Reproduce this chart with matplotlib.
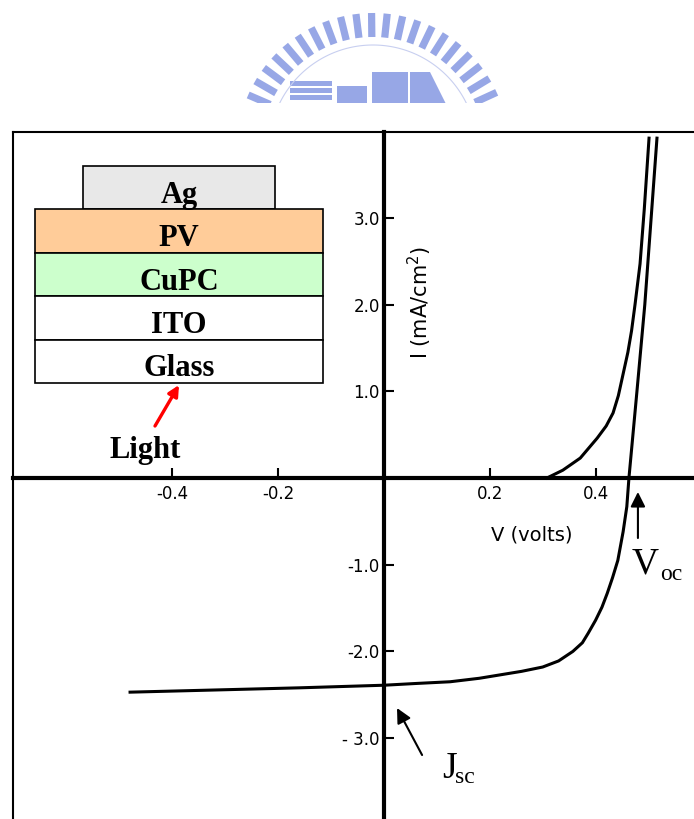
import numpy as np
import matplotlib
matplotlib.use("Agg")
import matplotlib.pyplot as plt
from matplotlib.patches import Rectangle, Polygon

# J-V data (V in volts, I in mA/cm2)
v_light = [-0.48, -0.16, 0.0, 0.06, 0.125, 0.18, 0.22, 0.26, 0.30, 0.33, 0.357, 0.375,
           0.386, 0.40, 0.412, 0.422, 0.432, 0.442, 0.452, 0.459, 0.463, 0.478, 0.493,
           0.505, 0.516]
i_light = [-2.47, -2.42, -2.39, -2.37, -2.35, -2.31, -2.27, -2.23, -2.18, -2.11, -2.0, -1.9,
           -1.79, -1.64, -1.49, -1.33, -1.15, -0.95, -0.62, -0.33, 0.0, 0.99, 2.0,
           3.0, 3.92]

v_dark = [0.308, 0.338, 0.371, 0.403, 0.42, 0.433, 0.443, 0.452, 0.461, 0.468, 0.4745,
          0.484, 0.492, 0.501]
i_dark = [0.0, 0.09, 0.23, 0.46, 0.6, 0.75, 0.95, 1.2, 1.45, 1.7, 2.0, 2.47, 3.1, 3.92]

xticks = [-0.4, -0.2, 0.2, 0.4]
xtick_labels = ["-0.4", "-0.2", "0.2", "0.4"]
yticks = [-3.0, -2.0, -1.0, 1.0, 2.0, 3.0]
ytick_labels = ["- 3.0", "-2.0", "-1.0", "1.0", "2.0", "3.0"]

# device stack of the inset, top to bottom
layers = ["Ag", "PV", "CuPC", "ITO", "Glass"]
layer_colors = ["#e8e8e8", "#ffcc99", "#ccffcc", "white", "white"]

W, H = 694, 819
fig = plt.figure(figsize=(W / 100, H / 100), dpi=100)

# main plot, axes crossing at the origin
pos = [13 / W, 0, (W - 13) / W, (H - 132) / H]
ax = fig.add_axes(pos)
ax.patch.set_alpha(0)
ax.set_xlim(-0.7013, 0.586)
ax.set_ylim(-3.933, 3.991)
ax.spines['left'].set_position(('data', 0))
ax.spines['bottom'].set_position(('data', 0))
ax.spines['left'].set_linewidth(3)
ax.spines['bottom'].set_linewidth(3)
ax.spines['right'].set_visible(False)
ax.spines['top'].set_linewidth(1.5)
ax.axvline(ax.get_xlim()[0], color='black', lw=1.5, clip_on=False)

ax.set_xticks(xticks)
ax.set_xticklabels(xtick_labels)
ax.set_yticks(yticks)
ax.set_yticklabels(ytick_labels)
ax.tick_params(axis='x', direction='in', length=7, width=1.5, labelsize=12, pad=5, top=False)
ax.tick_params(axis='y', direction='in', length=7, width=1.5, labelsize=12, pad=3, right=False)

ax.plot(v_light, i_light, color='black', lw=2.2)
ax.plot(v_dark, i_dark, color='black', lw=2.2)

ax.text(0.068, 2.02, "I (mA/cm$^2$)", rotation=90, ha='center', va='center', fontsize=15)
ax.text(0.28, -0.66, "V (volts)", ha='center', va='center', fontsize=14)

# Voc and Jsc markers
arrow = dict(arrowstyle='-|>', color='black', lw=1.5, mutation_scale=22, shrinkA=0, shrinkB=0)
ax.annotate("", xy=(0.480, -0.161), xytext=(0.480, -0.692), arrowprops=arrow)
ax.annotate("", xy=(0.0246, -2.653), xytext=(0.072, -3.195), arrowprops=arrow)
serif = "Liberation Serif"
ax.text(0.469, -1.096, "V", family=serif, fontsize=27, ha='left', va='baseline')
ax.text(0.522, -1.176, "oc", family=serif, fontsize=17, ha='left', va='baseline')
ax.text(0.110, -3.46, "J", family=serif, fontsize=27, ha='left', va='baseline')
ax.text(0.134, -3.518, "sc", family=serif, fontsize=17, ha='left', va='baseline')

# inset: layer stack, drawn in pixel coordinates
iax = fig.add_axes([0, 0, 1, 1])
iax.set_xlim(0, W)
iax.set_ylim(H, 0)
iax.axis('off')
top, step = 166, 43.4
for k, (name, col) in enumerate(zip(layers, layer_colors)):
    y = top + k * step
    x0, x1 = (83, 275) if name == "Ag" else (35, 323)
    iax.add_patch(Rectangle((x0, y), x1 - x0, step, fc=col, ec='black', lw=1.2))
    iax.text(179, y + step - 6.5, name, family=serif, weight='bold', fontsize=22,
             ha='center', va='baseline')
iax.text(145, 458, "Light", family=serif, weight='bold', fontsize=22, ha='center', va='baseline')
iax.annotate("", xy=(179, 385), xytext=(155, 426),
             arrowprops=dict(arrowstyle='-|>', color='red', lw=2.4, mutation_scale=16,
                             shrinkA=0, shrinkB=0))

# faint watermark logo at the top
lax = fig.add_axes([230 / W, 1 - 103 / H, 280 / W, 103 / H])
lax.set_xlim(230, 510)
lax.set_ylim(103, 0)
lax.axis('off')
blue = '#97a7e6'
cx, cy = 373, 149
for ang in np.radians(np.arange(18, 163, 6.6)):
    lax.plot([cx + 112 * np.cos(ang), cx + 136 * np.cos(ang)],
             [cy - 112 * np.sin(ang), cy - 136 * np.sin(ang)],
             color=blue, lw=5.2, solid_capstyle='butt')
t = np.radians(np.linspace(15, 165, 100))
lax.plot(cx + 104 * np.cos(t), cy - 104 * np.sin(t), color='#c8cff0', lw=0.8)
for y in [81, 88, 95]:
    lax.add_patch(Rectangle((290, y), 42, 4.5, color=blue, lw=0))
lax.add_patch(Rectangle((337, 86), 30, 20, color=blue, lw=0))
lax.add_patch(Rectangle((372, 72), 36, 34, color=blue, lw=0))
lax.add_patch(Polygon([[410, 106], [410, 72], [430, 72], [447, 106]], color=blue, lw=0))

fig.savefig("out.png", dpi=100)
